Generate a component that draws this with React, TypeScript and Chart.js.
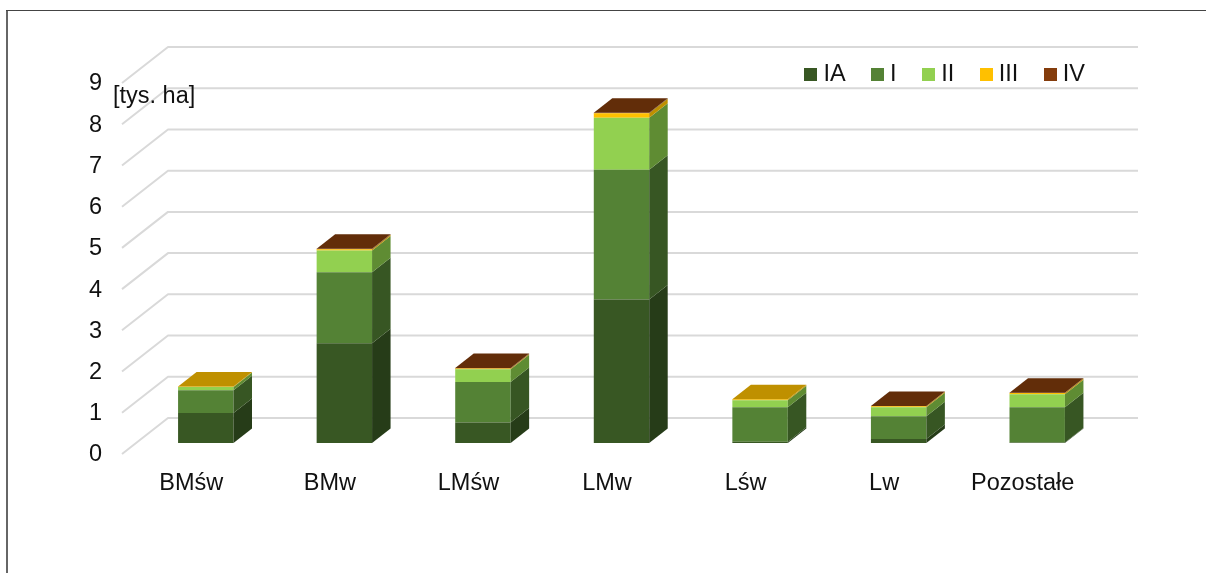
import React, { useEffect, useRef } from "react";
import { Chart, registerables } from "chart.js";

Chart.register(...registerables);

const categories = ["BMśw", "BMw", "LMśw", "LMw", "Lśw", "Lw", "Pozostałe"];
const seriesNames = ["IA", "I", "II", "III", "IV"];
const valuesIA = [0.73, 2.42, 0.5, 3.48, 0.03, 0.1, 0.01];
const valuesI = [0.55, 1.72, 0.98, 3.15, 0.84, 0.55, 0.86];
const valuesII = [0.08, 0.53, 0.31, 1.26, 0.17, 0.22, 0.31];
const valuesIII = [0.01, 0.03, 0.02, 0.11, 0.02, 0.02, 0.03];
const valuesIV = [0, 0.01, 0.01, 0.01, 0, 0.01, 0.01];
const allValues = [valuesIA, valuesI, valuesII, valuesIII, valuesIV];

const frontColors = ["#385723", "#548235", "#92D050", "#FFC000", "#843C0C"];
const sideColors = ["#263C18", "#375623", "#5F8C33", "#BF9000", "#622D09"];
const topColors = ["#2E4A1C", "#476F2D", "#7CB044", "#BF9000", "#622D09"];

const FONT = "'Liberation Sans', Arial, sans-serif";
const FONT_SIZE = 23.5;
const TEXT = "#111111";

// 3D projection offsets
const WALL = { dx: 46, dy: 36 };
const BAR_SHIFT = { dx: 14.5, dy: 11 };
const DEPTH = { dx: 18.5, dy: 14.5 };

function swatch(color: string) {
  const c = document.createElement("canvas");
  c.width = 13;
  c.height = 13;
  const g = c.getContext("2d")!;
  g.fillStyle = color;
  g.fillRect(0, 0, 13, 13);
  return c;
}

function poly(ctx: CanvasRenderingContext2D, pts: number[][], color: string) {
  ctx.fillStyle = color;
  ctx.beginPath();
  pts.forEach((p, i) => (i ? ctx.lineTo(p[0], p[1]) : ctx.moveTo(p[0], p[1])));
  ctx.closePath();
  ctx.fill();
}

const scene3d = {
  id: "scene3d",
  afterLayout(chart: any) {
    const legend = chart.legend;
    legend.left = 700;
    legend.right = 1116.25;
    legend.top = 31.75;
    legend.bottom = 110;
  },
  beforeDraw(chart: any) {
    const { ctx, width, height } = chart;
    ctx.save();
    ctx.fillStyle = "#666666";
    ctx.fillRect(6, 10, 2, height - 10);
    ctx.fillStyle = "#444444";
    ctx.fillRect(6, 10, width - 6, 1);
    ctx.restore();
  },
  beforeDatasetsDraw(chart: any) {
    const { ctx, chartArea, scales } = chart;
    const y = scales.y;
    ctx.save();
    ctx.strokeStyle = "#D9D9D9";
    ctx.lineWidth = 2;
    ctx.lineJoin = "round";
    y.ticks.forEach((t: any) => {
      const p = y.getPixelForValue(t.value);
      ctx.beginPath();
      ctx.moveTo(chartArea.left, p);
      ctx.lineTo(chartArea.left + WALL.dx, p - WALL.dy);
      ctx.lineTo(chartArea.right + WALL.dx, p - WALL.dy);
      ctx.stroke();
    });
    ctx.restore();
    ctx.save();
    ctx.translate(BAR_SHIFT.dx, -BAR_SHIFT.dy);
  },
  afterDatasetsDraw(chart: any) {
    const { ctx } = chart;
    const last = categories.length;
    const tops: any[] = new Array(last).fill(null);
    chart.data.datasets.forEach((ds: any, d: number) => {
      chart.getDatasetMeta(d).data.forEach((el: any, i: number) => {
        if (!ds.data[i]) return;
        const r = el.x + el.width / 2;
        poly(
          ctx,
          [
            [r, el.y],
            [r + DEPTH.dx, el.y - DEPTH.dy],
            [r + DEPTH.dx, el.base - DEPTH.dy],
            [r, el.base],
          ],
          sideColors[d]
        );
        tops[i] = { el, d };
      });
    });
    tops.forEach((t) => {
      if (!t) return;
      const { el, d } = t;
      const l = el.x - el.width / 2;
      const r = el.x + el.width / 2;
      poly(
        ctx,
        [
          [l, el.y],
          [l + DEPTH.dx, el.y - DEPTH.dy],
          [r + DEPTH.dx, el.y - DEPTH.dy],
          [r, el.y],
        ],
        topColors[d]
      );
    });
    ctx.restore();
  },
  afterDraw(chart: any) {
    const { ctx } = chart;
    ctx.save();
    ctx.fillStyle = TEXT;
    ctx.font = `${FONT_SIZE}px ${FONT}`;
    ctx.textBaseline = "middle";
    ctx.textAlign = "left";
    ctx.fillText("[tys. ha]", 113, 97);
    ctx.restore();
  },
};

export default function App() {
  const ref = useRef<HTMLCanvasElement>(null);
  useEffect(() => {
    const chart = new Chart(ref.current!, {
      type: "bar",
      data: {
        labels: categories,
        datasets: seriesNames.map((name, i) => ({
          label: name,
          data: allValues[i],
          backgroundColor: frontColors[i],
          borderWidth: 0,
          barPercentage: 1,
          categoryPercentage: 0.4,
          clip: false as any,
        })),
      },
      options: {
        responsive: false,
        animation: false,
        layout: { autoPadding: false, padding: { top: 18.25, right: 114, bottom: 0, left: 0 } },
        plugins: {
          tooltip: { enabled: false },
          legend: {
            display: true,
            position: "top",
            align: "end",
            labels: {
              usePointStyle: true,
              pointStyleWidth: 1.5,
              padding: 31.25,
              color: TEXT,
              font: { family: FONT, size: FONT_SIZE },
              generateLabels(c: any) {
                return Chart.defaults.plugins.legend.labels
                  .generateLabels(c)
                  .map((item: any, i: number) => ({ ...item, pointStyle: swatch(frontColors[i]) }));
              },
            },
          },
        },
        scales: {
          x: {
            stacked: true,
            grid: { display: false, drawTicks: false },
            border: { display: false },
            ticks: {
              padding: 15,
              color: TEXT,
              maxRotation: 0,
              autoSkip: false,
              font: { family: FONT, size: FONT_SIZE },
            },
            afterFit(s: any) {
              s.height = 119;
            },
          },
          y: {
            stacked: true,
            min: 0,
            max: 9,
            grid: { display: false, drawTicks: false },
            border: { display: false },
            ticks: {
              stepSize: 1,
              padding: 20,
              labelOffset: 1,
              color: TEXT,
              font: { family: FONT, size: FONT_SIZE },
            },
            afterFit(s: any) {
              s.width = 122;
            },
          },
        },
      } as any,
      plugins: [scene3d as any],
    });
    return () => chart.destroy();
  }, []);
  return (
    <div style={{ position: "fixed", left: 0, top: 0, width: 1206, height: 573, background: "#fff" }}>
      <canvas ref={ref} width={1206} height={573} style={{ display: "block" }} />
    </div>
  );
}
